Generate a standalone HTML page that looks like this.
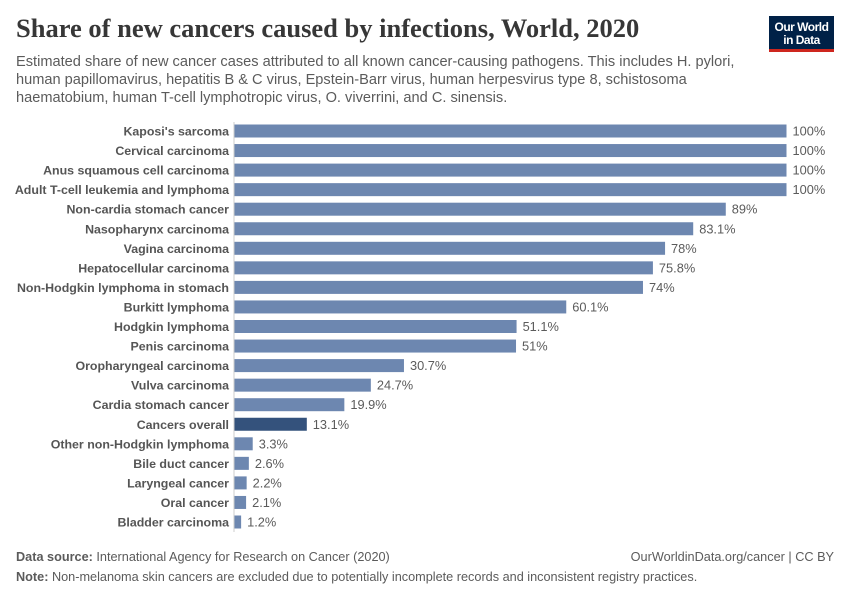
<!DOCTYPE html>
<html><head><meta charset="utf-8"><style>
body{margin:0;background:#fff}
svg text{font-family:"Liberation Sans",sans-serif}
</style></head><body>
<svg width="850" height="600" xmlns="http://www.w3.org/2000/svg">
<text x="16" y="37" font-weight="bold" font-size="26.5" fill="#373737" style="font-family:'Liberation Serif',serif">Share of new cancers caused by infections, World, 2020</text>
<g font-size="14.6" fill="#5b5b5b">
<text x="16" y="66">Estimated share of new cancer cases attributed to all known cancer-causing pathogens. This includes H. pylori,</text>
<text x="16" y="84">human papillomavirus, hepatitis B &amp; C virus, Epstein-Barr virus, human herpesvirus type 8, schistosoma</text>
<text x="16" y="102">haematobium, human T-cell lymphotropic virus, O. viverrini, and C. sinensis.</text>
</g>
<rect x="769" y="16" width="65" height="33" fill="#002147"/>
<rect x="769" y="49" width="65" height="3" fill="#ce261e"/>
<text x="801.5" y="31" text-anchor="middle" font-size="12" font-weight="bold" fill="#fff" letter-spacing="-0.5">Our World</text>
<text x="801.5" y="44" text-anchor="middle" font-size="12" font-weight="bold" fill="#fff" letter-spacing="-0.5">in Data</text>
<line x1="234" y1="122" x2="234" y2="532" stroke="#ccc" stroke-width="1"/>
<g id="bars" font-size="12.6"></g>
<g font-size="12.7" fill="#5b5b5b">
<text x="16" y="561"><tspan font-weight="bold">Data source:</tspan> International Agency for Research on Cancer (2020)</text>
<text x="834" y="561" text-anchor="end">OurWorldinData.org/cancer | CC BY</text>
<text x="16" y="581"><tspan font-weight="bold">Note:</tspan> Non-melanoma skin cancers are excluded due to potentially incomplete records and inconsistent registry practices.</text>
</g>
</svg>
<script>
var d=[["Kaposi's sarcoma",100,"100%"],["Cervical carcinoma",100,"100%"],["Anus squamous cell carcinoma",100,"100%"],["Adult T-cell leukemia and lymphoma",100,"100%"],["Non-cardia stomach cancer",89,"89%"],["Nasopharynx carcinoma",83.1,"83.1%"],["Vagina carcinoma",78,"78%"],["Hepatocellular carcinoma",75.8,"75.8%"],["Non-Hodgkin lymphoma in stomach",74,"74%"],["Burkitt lymphoma",60.1,"60.1%"],["Hodgkin lymphoma",51.1,"51.1%"],["Penis carcinoma",51,"51%"],["Oropharyngeal carcinoma",30.7,"30.7%"],["Vulva carcinoma",24.7,"24.7%"],["Cardia stomach cancer",19.9,"19.9%"],["Cancers overall",13.1,"13.1%"],["Other non-Hodgkin lymphoma",3.3,"3.3%"],["Bile duct cancer",2.6,"2.6%"],["Laryngeal cancer",2.2,"2.2%"],["Oral cancer",2.1,"2.1%"],["Bladder carcinoma",1.2,"1.2%"]];
var g=document.getElementById("bars"),s="";
d.forEach(function(r,i){var c=131+i*19.55,w=r[1]*5.52;
s+='<text x="229" y="'+(c+4.5)+'" text-anchor="end" font-weight="bold" fill="#555" font-size="12.4">'+r[0].replace("'","&#39;")+'</text>';
s+='<rect x="234.5" y="'+(c-6.5)+'" width="'+w+'" height="13" fill="'+(i==15?'#34527c':'#6d87b0')+'"/>';
s+='<text x="'+(234.5+w+6)+'" y="'+(c+4.5)+'" fill="#5b5b5b" font-size="12.8">'+r[2]+'</text>';});
g.innerHTML=s;
</script>
</body></html>
